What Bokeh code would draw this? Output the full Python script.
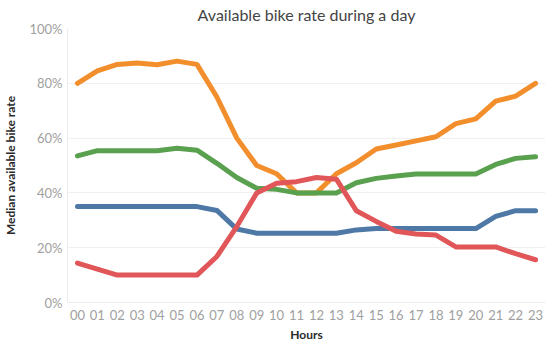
from bokeh.plotting import figure
from bokeh.models import FactorRange, Range1d, NumeralTickFormatter, FixedTicker
from bokeh.embed import file_html
from bokeh.resources import INLINE

hours = ["00", "01", "02", "03", "04", "05", "06", "07", "08", "09", "10", "11",
         "12", "13", "14", "15", "16", "17", "18", "19", "20", "21", "22", "23"]

orange = [0.80, 0.845, 0.869, 0.874, 0.868, 0.881, 0.869, 0.75, 0.60, 0.50, 0.47, 0.40,
          0.40, 0.47, 0.51, 0.56, 0.575, 0.59, 0.605, 0.653, 0.67, 0.735, 0.753, 0.80]
green = [0.535, 0.554, 0.554, 0.554, 0.554, 0.563, 0.556, 0.508, 0.456, 0.417, 0.413, 0.40,
         0.40, 0.40, 0.437, 0.453, 0.462, 0.469, 0.469, 0.469, 0.469, 0.504, 0.526, 0.532]
blue = [0.35, 0.35, 0.35, 0.35, 0.35, 0.35, 0.35, 0.336, 0.268, 0.253, 0.253, 0.253,
        0.253, 0.253, 0.265, 0.27, 0.27, 0.27, 0.27, 0.27, 0.27, 0.314, 0.335, 0.335]
red = [0.144, 0.122, 0.10, 0.10, 0.10, 0.10, 0.10, 0.168, 0.277, 0.40, 0.435, 0.441,
       0.456, 0.45, 0.335, 0.296, 0.26, 0.25, 0.246, 0.203, 0.203, 0.203, 0.178, 0.156]

y_ticks = [0, 0.2, 0.4, 0.6, 0.8, 1.0]

series = [(orange, "#f28e2b"), (green, "#59a14f"), (blue, "#4e79a7"), (red, "#e15759")]

FONT = "Lato"

p = figure(width=550, height=344, output_backend="svg", toolbar_location=None,
           x_range=FactorRange(*hours, range_padding=0), y_range=Range1d(0, 1),
           title="Available bike rate during a day",
           min_border_left=0, min_border_right=5, min_border_top=28, min_border_bottom=0)

for vals, col in series:
    p.line(hours, vals, line_color=col, line_width=5, line_join="round", line_cap="round")

p.title.align = "center"
p.title.vertical_align = "top"
p.title.text_font = FONT
p.title.text_font_size = "16px"
p.title.text_font_style = "normal"
p.title.text_color = "#444444"
p.title.standoff = 6
p.title.offset = 0

p.outline_line_color = None
p.background_fill_color = "white"
p.border_fill_color = "white"

p.xgrid.grid_line_color = None
p.ygrid.grid_line_color = "#f0f0f0"
p.ygrid.grid_line_width = 1

p.yaxis.ticker = FixedTicker(ticks=y_ticks)
p.yaxis.formatter = NumeralTickFormatter(format="0%")

for ax in (p.xaxis[0], p.yaxis[0]):
    ax.axis_line_color = "#ececec"
    ax.major_tick_line_color = None
    ax.minor_tick_line_color = None
    ax.major_tick_out = 0
    ax.major_tick_in = 0
    ax.major_label_text_font = FONT
    ax.major_label_text_font_size = "13px"
    ax.major_label_text_color = "#a0a0a0"
    ax.axis_label_text_font = FONT
    ax.axis_label_text_font_size = "12px"
    ax.axis_label_text_font_style = "bold"
    ax.axis_label_text_color = "#2a2a2a"

p.xaxis.axis_label = "Hours"
p.yaxis.axis_label = "Median available bike rate"
p.xaxis.major_label_standoff = 7
p.yaxis.major_label_standoff = 5
p.xaxis.axis_label_standoff = 4
p.yaxis.axis_label_standoff = 8

open("out.html", "w").write(file_html(p, INLINE))
